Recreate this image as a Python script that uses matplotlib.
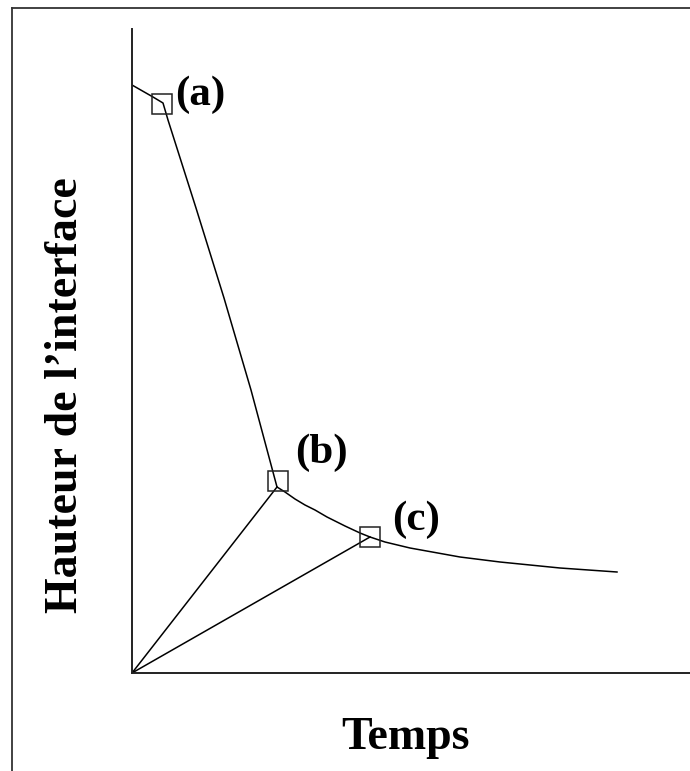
import numpy as np
import matplotlib.pyplot as plt
from matplotlib.lines import Line2D

# =========================
# Data (arbitrary units)
# =========================

# settling curve: interface height vs time
temps = [0, 21, 31, 36, 64, 92, 119, 145, 153, 163, 173, 183, 195, 213,
         228, 238, 253, 278, 328, 368, 428, 485]
hauteur = [588, 576, 570, 553, 465, 375, 283, 186, 181, 174, 168, 163,
           156, 147, 140, 136, 131, 125, 116, 111, 105, 101]

# marked points on the curve
pt_labels = ["(a)", "(b)", "(c)"]
pt_temps = [30, 146, 238]
pt_hauteur = [569, 192, 136]

# tangent rays from the origin
ray_temps = [145, 238]
ray_hauteur = [186, 136]

# label offsets in pixels from each marker
label_dx = [13, 17, 22]
label_dy = [9, 28, 17]

W, H = 690, 771
fig = plt.figure(figsize=(W / 100, H / 100), dpi=100)

font = dict(family="Liberation Serif", weight="bold")

# =========================
# Axes
# =========================

ax = fig.add_axes([132 / W, (H - 673) / H, 558 / W, 644 / H])
ax.set_xlim(0, 558)
ax.set_ylim(0, 644)
for side in ["top", "right"]:
    ax.spines[side].set_visible(False)
for side in ["left", "bottom"]:
    ax.spines[side].set_linewidth(1.4)
    ax.spines[side].set_color("#222222")
ax.set_xticks([])
ax.set_yticks([])

ax.plot(temps, hauteur, color="black", lw=1.1, solid_joinstyle="round")

for tx, hy in zip(ray_temps, ray_hauteur):
    ax.plot([0, tx], [0, hy], color="black", lw=1.1)

ax.plot(pt_temps, pt_hauteur, linestyle="none", marker="s", markersize=14.5,
        markerfacecolor="none", markeredgecolor="#222222", markeredgewidth=1.1)

for lab, tx, hy, dx, dy in zip(pt_labels, pt_temps, pt_hauteur, label_dx, label_dy):
    ax.annotate(lab, (tx, hy), xytext=(dx, dy), textcoords="offset pixels",
                ha="left", va="center", fontsize=31, **font)

# =========================
# Axis titles
# =========================

fig.text(405 / W, 1 - 738 / H, "Temps", ha="center", va="center",
         fontsize=33, **font)
fig.text(66 / W, 1 - 395 / H, "Hauteur de l\u2019interface", rotation=90,
         ha="center", va="center", fontsize=33, **font)

# =========================
# Outer frame (left and top only)
# =========================

fig.add_artist(Line2D([12 / W, 12 / W], [0, 1 - 8 / H],
                      transform=fig.transFigure, color="#333333", lw=1.3))
fig.add_artist(Line2D([12 / W, 1], [1 - 8 / H, 1 - 8 / H],
                      transform=fig.transFigure, color="#333333", lw=1.3))

fig.savefig("out.png", dpi=100, facecolor="white")
